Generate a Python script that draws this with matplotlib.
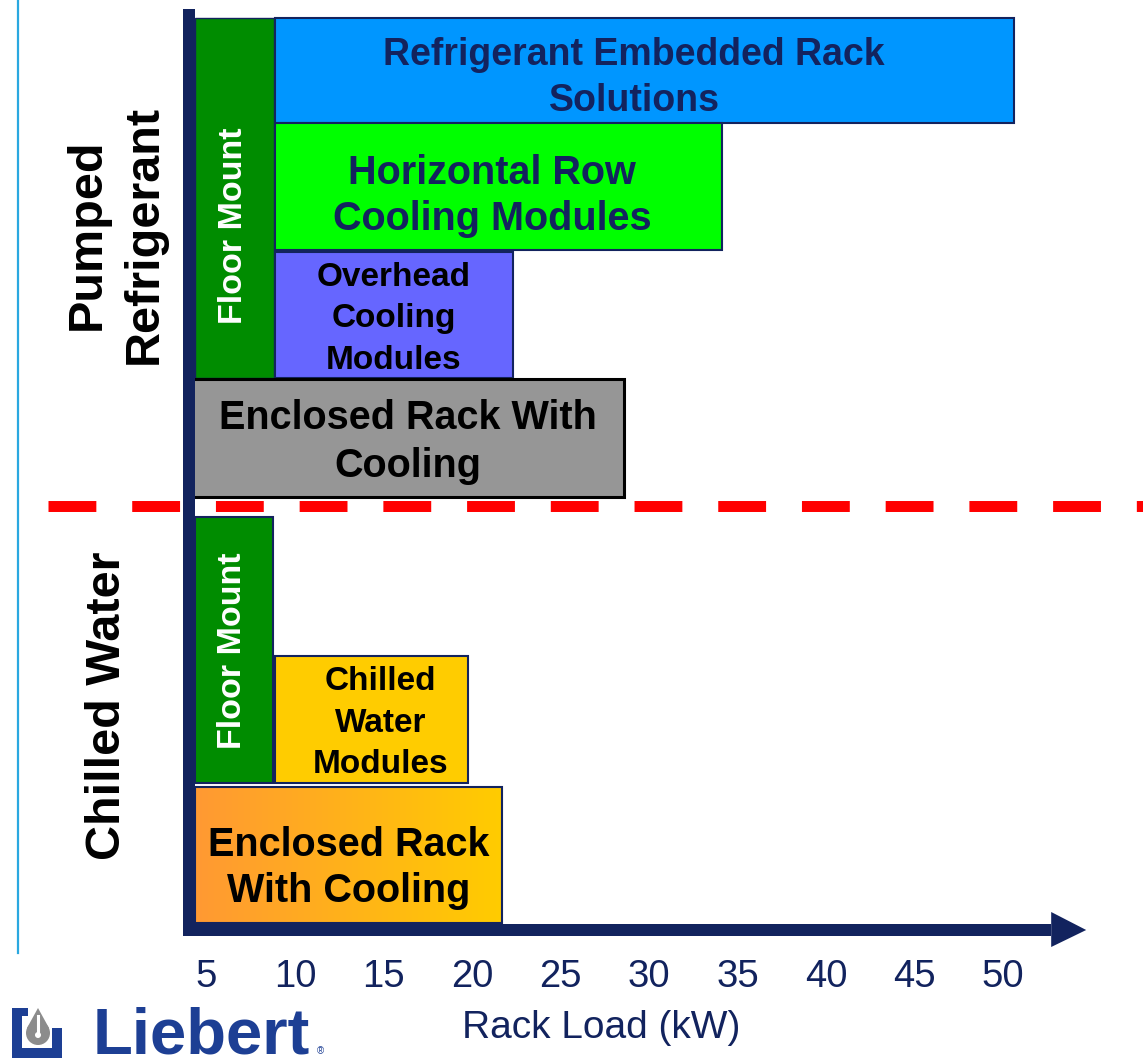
import matplotlib
matplotlib.use('Agg')
import matplotlib.pyplot as plt
import numpy as np
from matplotlib.patches import Rectangle, Polygon, Circle
from matplotlib.colors import LinearSegmentedColormap

plt.rcParams['font.family'] = ['Liberation Sans', 'DejaVu Sans']

# ---------------- data ----------------
bar_labels = ["Refrigerant Embedded Rack\nSolutions",
              "Floor Mount",
              "Horizontal Row\nCooling Modules",
              "Overhead\nCooling\nModules",
              "Enclosed Rack With\nCooling",
              "Floor Mount",
              "Chilled\nWater\nModules",
              "Enclosed Rack\nWith Cooling"]
bar_start_kw = [8.85, 4.35, 8.85, 8.85, 4.18, 4.35, 8.85, 4.35]
bar_end_kw = [50.6, 8.8, 34.1, 22.3, 28.6, 8.75, 19.8, 21.7]
group_labels = ["Pumped\nRefrigerant", "Chilled Water"]
tick_values = [5, 10, 15, 20, 25, 30, 35, 40, 45, 50]
tick_labels = [str(v) for v in tick_values]
axis_min_kw = 4.0
axis_max_kw = 54.7
x_title = "Rack Load (kW)"

# ---------------- styles / layout ----------------
bar_colors = ["#0096ff", "#008c00", "#00ff00", "#6666ff", "#969696",
              "#008c00", "#ffcc00", "gradient"]
text_colors = ["#13235e", "white", "#13235e", "black", "black",
               "white", "black", "black"]
text_sizes = [27, 24.5, 28.5, 24, 28.5, 24.5, 24, 28.5]
text_rot = [0, 90, 0, 0, 0, 90, 0, 0]
text_ls = [1.36, 1.2, 1.26, 1.42, 1.32, 1.2, 1.42, 1.26]
edge_colors = ["#13235e"] * 8
edge_colors[4] = "black"
edge_w = [1.5, 1.0, 1.5, 1.5, 2.2, 1.5, 1.5, 1.5]
row_top = [18, 18, 123, 252, 379, 517, 656, 787]
row_bot = [123, 378, 250, 378, 497, 783, 783, 923]
text_dx = [-10, -1, -6, 0, 0, -1, 9, 0]
text_y = [78, 226, 196, 319, 442, 651, 723, 868]
zord = [2, 3, 2, 2, 4, 3, 2, 2]

NAVY = "#12235e"
W, H = 1143, 1061
P0, K0, S = 295.0, 10.0, 17.7


def px2kw(px):
    return K0 + (px - P0) / S


fig = plt.figure(figsize=(W / 100, H / 100), dpi=100)
ax = fig.add_axes([0, 0, 1, 1])
ax.set_axis_off()

# bars
for i in range(len(bar_labels)):
    x0, x1 = bar_start_kw[i], bar_end_kw[i]
    y0, y1 = row_top[i], row_bot[i]
    if bar_colors[i] == "gradient":
        cmap = LinearSegmentedColormap.from_list("og", ["#ff9933", "#ffcc00"])
        grad = np.linspace(0, 1, 256).reshape(1, -1)
        ax.imshow(grad, cmap=cmap, extent=(x0, x1, y1, y0), aspect='auto',
                  zorder=zord[i], interpolation='bilinear')
        ax.add_patch(Rectangle((x0, y0), x1 - x0, y1 - y0, fill=False,
                               edgecolor=edge_colors[i], lw=edge_w[i],
                               zorder=zord[i] + 0.1))
    else:
        ax.add_patch(Rectangle((x0, y0), x1 - x0, y1 - y0,
                               facecolor=bar_colors[i],
                               edgecolor=edge_colors[i], lw=edge_w[i],
                               zorder=zord[i]))
    xc = (x0 + x1) / 2 + text_dx[i] / S
    ax.text(xc, text_y[i], bar_labels[i], ha='center', va='center',
            multialignment='center', rotation=text_rot[i],
            fontsize=text_sizes[i], fontweight='bold', color=text_colors[i],
            linespacing=text_ls[i], zorder=6)

# red dashed separator
ax.plot([px2kw(48), px2kw(1143)], [505.5, 505.5], color='#ff0000', lw=7.9,
        linestyle=(0, (4.36, 3.27)), solid_capstyle='butt',
        dash_capstyle='butt', zorder=5)

# vertical axis
half = 6 / S
ax.add_patch(Rectangle((axis_min_kw - half, 9), 2 * half, 927,
                       facecolor=NAVY, edgecolor='none', zorder=7))
# horizontal axis with arrow
shaft_end = axis_max_kw - 35 / S
ax.add_patch(Rectangle((axis_min_kw - half, 924), shaft_end - (axis_min_kw - half), 12,
                       facecolor=NAVY, edgecolor='none', zorder=7))
ax.add_patch(Polygon([(shaft_end, 912), (axis_max_kw, 930), (shaft_end, 947)],
                     closed=True, facecolor=NAVY, edgecolor='none', zorder=7))

# tick labels
for v, t in zip(tick_values, tick_labels):
    ax.text(v, 977, t, ha='center', va='center', fontsize=27.5, color=NAVY)
ax.text(px2kw(601), 1028, x_title, ha='center', va='center', fontsize=28,
        color=NAVY)

ax.set_xlim(px2kw(0), px2kw(W))
ax.set_ylim(H, 0)

# ---------------- decorations (pixel axes) ----------------
deco = fig.add_axes([0, 0, 1, 1])
deco.set_xlim(0, W)
deco.set_ylim(H, 0)
deco.set_axis_off()
deco.patch.set_alpha(0)

deco.plot([17.5, 17.5], [0, 953], color='#2aa8e0', lw=1.6)
deco.text(116, 234, group_labels[0], rotation=90, ha='center', va='center',
          multialignment='center', fontsize=35, fontweight='bold',
          color='black', linespacing=1.34)
deco.text(108, 706, group_labels[1], rotation=90, ha='center', va='center',
          fontsize=35, fontweight='bold', color='black')

# Liebert logo
LB = "#1d3f94"
deco.add_patch(Rectangle((12, 1008), 10, 50, facecolor=LB, edgecolor='none'))
deco.add_patch(Rectangle((12, 1048), 50, 10, facecolor=LB, edgecolor='none'))
deco.add_patch(Rectangle((52, 1028), 10, 30, facecolor=LB, edgecolor='none'))
deco.add_patch(Rectangle((12, 1008), 16, 8, facecolor=LB, edgecolor='none'))
deco.add_patch(Circle((38, 1033), 12, facecolor='#8c8c8c', edgecolor='none'))
deco.add_patch(Polygon([(27, 1028), (38, 1008), (49, 1028)], closed=True,
                       facecolor='#8c8c8c', edgecolor='none'))
deco.plot([38, 38], [1016, 1034], color='white', lw=2.2)
deco.add_patch(Circle((38, 1035), 3, facecolor='white', edgecolor='none'))
deco.text(93, 1054, "Liebert", ha='left', va='baseline', fontsize=47,
          fontweight='bold', color=LB)
deco.text(317, 1051, "®", ha='left', va='center', fontsize=7, color=LB)

fig.savefig("out.png", dpi=100)
